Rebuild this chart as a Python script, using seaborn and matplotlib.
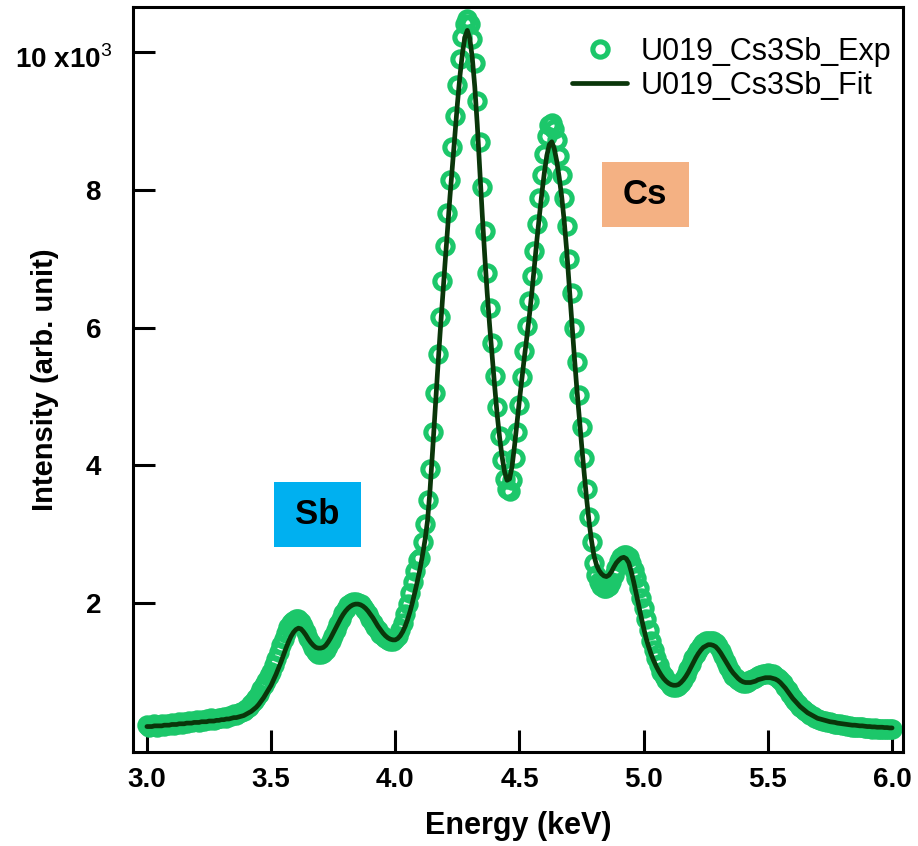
import numpy as np
import pandas as pd
import matplotlib
matplotlib.use("Agg")
import matplotlib.pyplot as plt
import seaborn as sns
from matplotlib.patches import Rectangle

# Energy grid of the scan (keV), 10 eV steps
energy_kev = np.round(np.arange(300, 601) / 100, 2)

# Measured intensity (x10^3 counts)
exp_intensity = [
    0.22, 0.19, 0.21, 0.23, 0.20, 0.22, 0.24, 0.21, 0.23, 0.22,
    0.25, 0.22, 0.24, 0.26, 0.23, 0.27, 0.25, 0.28, 0.26, 0.28,
    0.29, 0.27, 0.30, 0.28, 0.31, 0.29, 0.32, 0.30, 0.31, 0.33,
    0.32, 0.34, 0.33, 0.36, 0.35, 0.38, 0.37, 0.40, 0.41, 0.43,
    0.46, 0.49, 0.53, 0.57, 0.62, 0.68, 0.74, 0.80, 0.86, 0.93,
    1.00, 1.09, 1.18, 1.28, 1.38, 1.47, 1.56, 1.64, 1.70, 1.74,
    1.77, 1.76, 1.72, 1.66, 1.58, 1.49, 1.41, 1.34, 1.29, 1.26,
    1.25, 1.27, 1.31, 1.37, 1.44, 1.52, 1.60, 1.69, 1.77, 1.85,
    1.91, 1.96, 1.99, 2.01, 2.01, 2.00, 1.98, 1.94, 1.89, 1.83,
    1.77, 1.71, 1.65, 1.60, 1.55, 1.51, 1.48, 1.46, 1.45, 1.45,
    1.47, 1.52, 1.60, 1.70, 1.83, 1.98, 2.14, 2.30, 2.46, 2.62,
    2.65, 2.88, 3.15, 3.50, 3.95, 4.48, 5.05, 5.62, 6.16, 6.68,
    7.18, 7.66, 8.15, 8.62, 9.08, 9.52, 9.90, 10.22, 10.42, 10.48,
    10.42, 10.20, 9.85, 9.30, 8.70, 8.05, 7.40, 6.80, 6.28, 5.78,
    5.30, 4.85, 4.42, 4.08, 3.80, 3.66, 3.63, 3.78, 4.10, 4.48,
    4.88, 5.28, 5.66, 6.02, 6.38, 6.75, 7.12, 7.50, 7.88, 8.22,
    8.52, 8.78, 8.95, 8.97, 8.88, 8.72, 8.50, 8.22, 7.88, 7.48,
    7.00, 6.50, 6.00, 5.50, 5.02, 4.55, 4.10, 3.66, 3.25, 2.88,
    2.58, 2.40, 2.30, 2.25, 2.22, 2.22, 2.24, 2.30, 2.40, 2.50,
    2.60, 2.66, 2.70, 2.70, 2.66, 2.58, 2.48, 2.36, 2.22, 2.07,
    1.92, 1.76, 1.60, 1.45, 1.32, 1.20, 1.09, 1.00, 0.93, 0.88,
    0.83, 0.79, 0.77, 0.77, 0.79, 0.83, 0.88, 0.95, 1.03, 1.11,
    1.19, 1.26, 1.32, 1.37, 1.41, 1.44, 1.45, 1.45, 1.44, 1.42,
    1.37, 1.30, 1.22, 1.14, 1.06, 0.99, 0.94, 0.90, 0.87, 0.85,
    0.84, 0.84, 0.85, 0.87, 0.89, 0.91, 0.93, 0.95, 0.96, 0.97,
    0.98, 0.97, 0.96, 0.94, 0.91, 0.87, 0.83, 0.78, 0.73, 0.68,
    0.62, 0.57, 0.53, 0.49, 0.45, 0.42, 0.39, 0.37, 0.35, 0.33,
    0.31, 0.30, 0.28, 0.28, 0.26, 0.26, 0.25, 0.24, 0.24, 0.23,
    0.22, 0.22, 0.21, 0.21, 0.20, 0.20, 0.19, 0.19, 0.19, 0.18,
    0.18, 0.18, 0.17, 0.18, 0.17, 0.17, 0.16, 0.17, 0.16, 0.16,
    0.16,
]

# Fitted intensity (x10^3 counts)
fit_intensity = [
    0.20, 0.20, 0.20, 0.21, 0.21, 0.21, 0.21, 0.22, 0.22, 0.22,
    0.23, 0.23, 0.23, 0.24, 0.24, 0.24, 0.25, 0.25, 0.25, 0.26,
    0.26, 0.26, 0.27, 0.27, 0.27, 0.28, 0.28, 0.28, 0.29, 0.29,
    0.30, 0.30, 0.31, 0.31, 0.32, 0.33, 0.33, 0.34, 0.35, 0.36,
    0.38, 0.40, 0.42, 0.45, 0.48, 0.52, 0.57, 0.62, 0.68, 0.74,
    0.80, 0.88, 0.96, 1.05, 1.14, 1.24, 1.34, 1.43, 1.51, 1.57,
    1.61, 1.63, 1.62, 1.58, 1.53, 1.47, 1.42, 1.38, 1.35, 1.34,
    1.34, 1.35, 1.38, 1.43, 1.49, 1.56, 1.63, 1.70, 1.77, 1.83,
    1.88, 1.92, 1.95, 1.97, 1.98, 1.98, 1.97, 1.95, 1.92, 1.88,
    1.83, 1.78, 1.72, 1.66, 1.61, 1.56, 1.52, 1.49, 1.47, 1.46,
    1.46, 1.48, 1.52, 1.58, 1.66, 1.76, 1.88, 2.02, 2.17, 2.33,
    2.50, 2.70, 2.92, 3.20, 3.65, 4.20, 4.78, 5.35, 5.90, 6.42,
    6.92, 7.42, 7.90, 8.35, 8.80, 9.25, 9.65, 9.98, 10.22, 10.32,
    10.20, 9.92, 9.50, 8.95, 8.30, 7.65, 7.05, 6.50, 6.02, 5.58,
    5.15, 4.74, 4.40, 4.12, 3.90, 3.78, 3.80, 3.98, 4.28, 4.62,
    4.95, 5.27, 5.58, 5.87, 6.18, 6.52, 6.90, 7.27, 7.62, 7.95,
    8.25, 8.50, 8.66, 8.70, 8.60, 8.42, 8.18, 7.90, 7.55, 7.12,
    6.62, 6.12, 5.62, 5.15, 4.72, 4.30, 3.90, 3.52, 3.18, 2.90,
    2.68, 2.55, 2.47, 2.42, 2.39, 2.38, 2.40, 2.45, 2.52, 2.58,
    2.62, 2.65, 2.66, 2.64, 2.58, 2.45, 2.30, 2.13, 1.96, 1.79,
    1.63, 1.48, 1.36, 1.25, 1.16, 1.08, 1.01, 0.95, 0.90, 0.86,
    0.83, 0.81, 0.80, 0.80, 0.81, 0.84, 0.88, 0.93, 0.99, 1.06,
    1.13, 1.20, 1.26, 1.31, 1.35, 1.37, 1.39, 1.39, 1.38, 1.36,
    1.32, 1.27, 1.21, 1.15, 1.09, 1.03, 0.98, 0.94, 0.90, 0.87,
    0.85, 0.84, 0.84, 0.84, 0.85, 0.86, 0.88, 0.89, 0.90, 0.91,
    0.91, 0.91, 0.90, 0.89, 0.87, 0.84, 0.80, 0.76, 0.71, 0.66,
    0.61, 0.57, 0.53, 0.49, 0.46, 0.43, 0.40, 0.38, 0.36, 0.34,
    0.32, 0.31, 0.30, 0.29, 0.28, 0.27, 0.265, 0.26, 0.25, 0.245,
    0.24, 0.235, 0.23, 0.225, 0.22, 0.22, 0.215, 0.21, 0.21, 0.205,
    0.20, 0.20, 0.195, 0.195, 0.19, 0.19, 0.19, 0.185, 0.185, 0.18,
    0.18,
]

series_names = ["U019_Cs3Sb_Exp", "U019_Cs3Sb_Fit"]
x_ticks = [3.0, 3.5, 4.0, 4.5, 5.0, 5.5, 6.0]
x_tick_labels = ["3.0", "3.5", "4.0", "4.5", "5.0", "5.5", "6.0"]
y_ticks = [2, 4, 6, 8, 10]
y_tick_labels = ["2", "4", "6", "8", ""]
element_labels = ["Sb", "Cs"]

EXP_GREEN = "#1cc76a"
FIT_GREEN = "#0a360a"

sns.set_theme(style="white")
plt.rcParams["font.family"] = ["Liberation Sans", "DejaVu Sans"]
plt.rcParams["mathtext.fontset"] = "custom"
plt.rcParams["mathtext.rm"] = "Liberation Sans"
plt.rcParams["mathtext.bf"] = "Liberation Sans:bold"
plt.rcParams["text.color"] = "black"
plt.rcParams["axes.labelcolor"] = "black"
plt.rcParams["xtick.color"] = "black"
plt.rcParams["ytick.color"] = "black"

W, H = 918, 846
fig = plt.figure(figsize=(W / 100, H / 100), dpi=100)
ax = fig.add_axes([133 / W, 1 - 752 / H, (903 - 133) / W, (752 - 7) / H])

df = pd.DataFrame({"energy": energy_kev, "exp": exp_intensity, "fit": fit_intensity})

sns.lineplot(data=df, x="energy", y="exp", ax=ax, estimator=None, sort=False,
             linestyle="none", marker="o", markersize=11,
             markerfacecolor="none", markeredgecolor=EXP_GREEN,
             markeredgewidth=3.7, color=EXP_GREEN, label=series_names[0], zorder=2)
sns.lineplot(data=df, x="energy", y="fit", ax=ax, estimator=None, sort=False,
             color=FIT_GREEN, linewidth=3.4, label=series_names[1], zorder=3)

# element tags
ax.add_patch(Rectangle((3.512, 2.81), 0.351, 0.94, facecolor="#00B0F0",
                       edgecolor="none", zorder=1))
ax.text(3.6875, 3.28, element_labels[0], ha="center", va="center",
        fontsize=25, fontweight="bold", color="black", zorder=4)
ax.add_patch(Rectangle((4.831, 7.46), 0.35, 0.95, facecolor="#F4B183",
                       edgecolor="none", zorder=1))
ax.text(5.006, 7.935, element_labels[1], ha="center", va="center",
        fontsize=25, fontweight="bold", color="black", zorder=4)

ax.set_xlim(2.944, 6.044)
ax.set_ylim(-0.17, 10.66)
ax.set_xticks(x_ticks)
ax.set_xticklabels(x_tick_labels)
ax.set_yticks(y_ticks)
ax.set_yticklabels(y_tick_labels)
ax.tick_params(axis="both", which="major", direction="in", length=16, width=2.2,
               colors="black", labelsize=20, bottom=True, left=True,
               top=False, right=False)
ax.tick_params(axis="x", pad=11)
ax.tick_params(axis="y", pad=23)
for lbl in ax.get_xticklabels() + ax.get_yticklabels():
    lbl.set_fontweight("bold")
    lbl.set_color("black")

for side in ["left", "right", "top", "bottom"]:
    ax.spines[side].set_visible(True)
    ax.spines[side].set_color("black")
    ax.spines[side].set_linewidth(2.2)

ax.set_xlabel("Energy (keV)", fontsize=22, fontweight="bold", labelpad=13,
              color="black")
ax.set_ylabel("Intensity (arb. unit)", fontsize=21, fontweight="bold",
              labelpad=19, color="black")

fig.text(15 / W, 1 - 68 / H, r"10 x10$^{\mathrm{3}}$", fontsize=20,
         fontweight="bold", ha="left", va="baseline", color="black")

leg = ax.legend(loc="upper left", bbox_to_anchor=(572 / W, 1 - 37 / H),
                bbox_transform=fig.transFigure, frameon=False, fontsize=22,
                handlelength=1.8, handletextpad=0.45, labelspacing=0.12,
                borderpad=0, borderaxespad=0)
for t in leg.get_texts():
    t.set_color("black")

fig.savefig("out.png", dpi=100)
